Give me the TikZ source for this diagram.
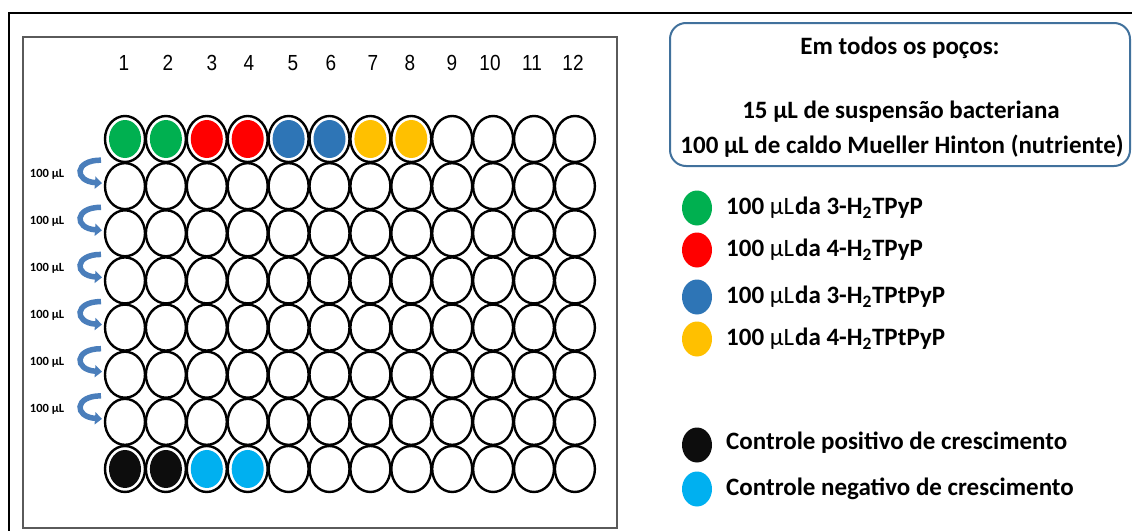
\documentclass[tikz,border=0pt]{standalone}
\usepackage{fontspec}
\setmainfont{Carlito}
\newfontfamily\arialf{Liberation Sans}
\usetikzlibrary{shapes.geometric,arrows.meta}
\definecolor{cgreen}{RGB}{0,176,80}
\definecolor{cred}{RGB}{255,0,0}
\definecolor{cblue}{RGB}{46,117,182}
\definecolor{cyellow}{RGB}{255,192,0}
\definecolor{cblack}{RGB}{13,13,13}
\definecolor{clblue}{RGB}{0,176,240}
\definecolor{boxblue}{RGB}{65,113,156}
\definecolor{arrowblue}{RGB}{74,126,187}
\definecolor{plategray}{RGB}{90,90,90}
\newcommand{\vs}[1]{\scalebox{1}[1.15]{#1}}
\tikzset{
  well/.style={ellipse, draw=black, line width=2.4pt, fill=white, minimum width=40pt, minimum height=46pt, inner sep=0pt},
  fillwell/.style={ellipse, minimum width=32pt, minimum height=38pt, inner sep=0pt},
  ldot/.style={ellipse, minimum width=30pt, minimum height=35pt, inner sep=0pt},
  colnum/.style={font=\arialf\fontsize{19}{19}\selectfont, inner sep=0pt},
  vol/.style={font=\bfseries\fontsize{12.5}{13}\selectfont, inner sep=0pt},
  boxtxt/.style={font=\bfseries\fontsize{25}{27}\selectfont, inner sep=0pt},
  ltxt/.style={font=\bfseries\fontsize{25}{27}\selectfont, inner sep=0pt, anchor=west},
  transfer/.style={arrowblue, line width=5.5pt, -{Triangle[length=7pt,width=12pt]}}
}
\begin{document}
\begin{tikzpicture}[x=1pt,y=-1pt]
\useasboundingbox (0,0) rectangle (1132,530);
% outer frame
\draw[line width=1.6pt] (9,531) -- (9,13) -- (1133,13);
% plate
\draw[plategray, line width=2.2pt] (23,37) rectangle (617,528);
% column numbers
\foreach \c/\x in {1/124,2/168,3/212,4/249,5/293,6/331,7/373,8/410,9/452,10/490,11/532,12/573}
  \node[colnum] (n-\c) at (\x,63) {\vs{\c}};
% wells
\foreach \r in {1,...,8}
  \foreach \c in {1,...,12}
    \node[well] (w-\r-\c) at ({125+(\c-1)*40.9},{139+(\r-1)*47.14}) {};
% coloured wells
\foreach \c/\col in {1/cgreen,2/cgreen,3/cred,4/cred,5/cblue,6/cblue,7/cyellow,8/cyellow}
  \node[fillwell, fill=\col] (f-1-\c) at (w-1-\c) {};
\foreach \c/\col in {1/cblack,2/cblack,3/clblue,4/clblue}
  \node[fillwell, fill=\col] (f-8-\c) at (w-8-\c) {};
% transfer arrows
\foreach \r in {2,...,7} {
  \pgfmathsetmacro{\yy}{139+(\r-1)*47.14}
  \coordinate (as-\r) at (101,\yy-26);
  \coordinate (ae-\r) at (102,\yy-3);
  \draw[transfer] (as-\r) .. controls (74,\yy-26) and (74,\yy-5) .. (ae-\r);
  \node[vol] (v-\r) at (47,\yy-12) {100 µL};
}
% legend box
\node[draw=boxblue, line width=2pt, rounded corners=16pt, minimum width=460pt, minimum height=143pt, inner sep=0pt] (box) at (900,94.5) {};
\node[boxtxt] (t1) at (900,48) {Em todos os poços:};
\node[boxtxt] (t2) at (901,112) {15 µL de suspensão bacteriana};
\node[boxtxt] (t3) at (902,146) {100 µL de caldo Mueller Hinton (nutriente)};
% legend items
\node[ldot, fill=cgreen] (d1) at (697,208) {};
\node[ltxt] (e1) at (726,208) {100 \textmd{µL}\hspace{1pt}da 3-H\textsubscript{2}TPyP};
\node[ldot, fill=cred] (d2) at (697,250) {};
\node[ltxt] (e2) at (726,250) {100 \textmd{µL}\hspace{1pt}da 4-H\textsubscript{2}TPyP};
\node[ldot, fill=cblue] (d3) at (697,297) {};
\node[ltxt] (e3) at (726,297) {100 \textmd{µL}\hspace{1pt}da 3-H\textsubscript{2}TPtPyP};
\node[ldot, fill=cyellow] (d4) at (697,339) {};
\node[ltxt] (e4) at (726,339) {100 \textmd{µL}\hspace{1pt}da 4-H\textsubscript{2}TPtPyP};
\node[ldot, fill=cblack] (d5) at (697,445) {};
\node[ltxt] (e5) at (726,443) {Controle positivo de crescimento};
\node[ldot, fill=clblue] (d6) at (697,489) {};
\node[ltxt] (e6) at (726,489) {Controle negativo de crescimento};
\end{tikzpicture}
\end{document}
